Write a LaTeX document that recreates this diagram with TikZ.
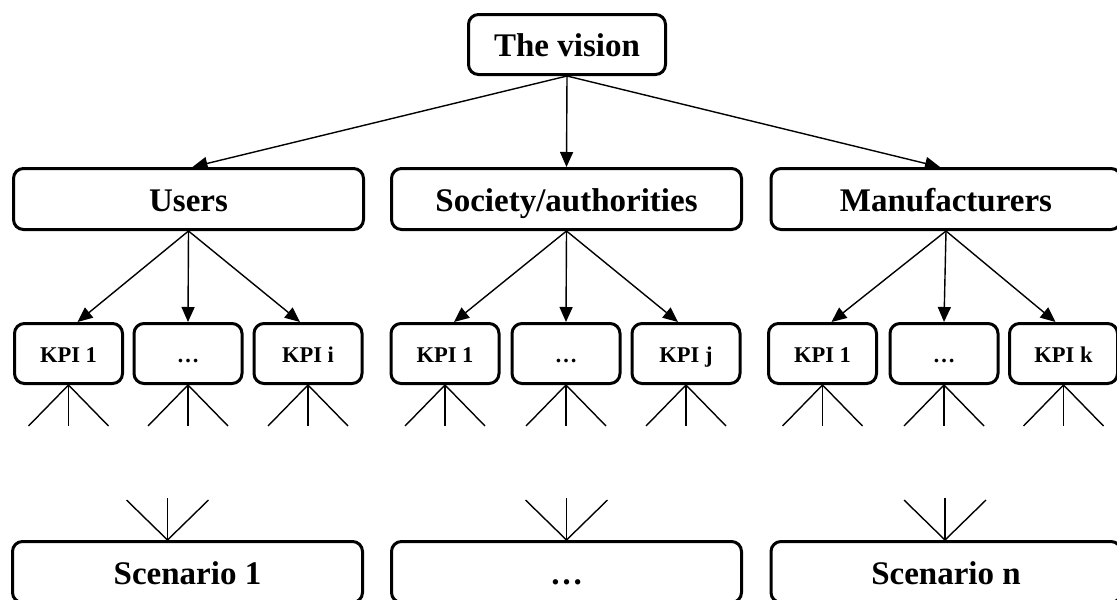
\documentclass[tikz,border=0pt]{standalone}
\usepackage{fontspec}
\setmainfont{Liberation Serif}
\usetikzlibrary{arrows.meta,calc}
\begin{document}
\begin{tikzpicture}[x=1pt,y=-1pt,
  box/.style={draw=black,line width=3pt,rounded corners=10pt,fill=white,
    inner sep=0pt,text height=24pt,text depth=0pt,
    font=\fontsize{33}{33}\selectfont\bfseries},
  mainbox/.style={box,minimum width=197pt,minimum height=60pt},
  groupbox/.style={box,minimum width=350pt,minimum height=61pt},
  kpibox/.style={box,minimum width=108pt,minimum height=60pt,
    text height=17pt,font=\fontsize{22.5}{22.5}\selectfont\bfseries},
  link/.style={draw=black,line width=1.4pt,
    -{Triangle[length=15pt,width=13pt]}},
  fan/.style={draw=black,line width=1.4pt}]
\useasboundingbox (0,0) rectangle (1117,600);
\clip (0,0) rectangle (1117,600);

% top level
\node[mainbox] (vision) at (567,44.5) {The vision};

% stakeholder groups
\node[groupbox] (users) at (188.5,199) {Users};
\node[groupbox] (society) at (566.5,199) {Society/authorities};
\node[groupbox] (manuf) at (946,199) {Manufacturers};

\draw[link] (vision.south) -- ($(users.north)+(4,0)$);
\draw[link] (vision.south) -- (society.north);
\draw[link] (vision.south) -- ($(manuf.north)+(-6,0)$);

% KPIs per group
\foreach \g/\a/\b/\c/\last in {users/68.5/188/308/i, society/445/566/686/j, manuf/822.5/944/1063.5/k}{
  \node[kpibox] (\g-k1) at (\a,353.5) {KPI 1};
  \node[kpibox] (\g-k2) at (\b,353.5) {…};
  \node[kpibox] (\g-k3) at (\c,353.5) {KPI \last};
  \draw[link] (\g.south) -- ($(\g-k1.north)+(9,0)$);
  \draw[link] (\g.south) -- (\g-k2.north);
  \draw[link] (\g.south) -- ($(\g-k3.north)+(-8,0)$);
  \foreach \k in {k1,k2,k3}{
    \draw[fan] (\g-\k.south) -- ++(-40,41);
    \draw[fan] (\g-\k.south) -- ++(0,41);
    \draw[fan] (\g-\k.south) -- ++(40,41);
  }
}

% scenarios
\node[groupbox] (sc1) at (187.5,572) {Scenario 1};
\node[groupbox] (sc2) at (566.5,572) {…};
\node[groupbox] (scn) at (946,572) {Scenario n};

\coordinate (sc1in) at ($(sc1.north)+(-20,0)$);
\coordinate (sc2in) at (sc2.north);
\coordinate (scnin) at ($(scn.north)+(-1,0)$);
\foreach \s in {sc1in,sc2in,scnin}{
  \draw[fan] (\s) -- ++(-41,-40);
  \draw[fan] (\s) -- ++(0,-42);
  \draw[fan] (\s) -- ++(41,-40);
}
\end{tikzpicture}
\end{document}
